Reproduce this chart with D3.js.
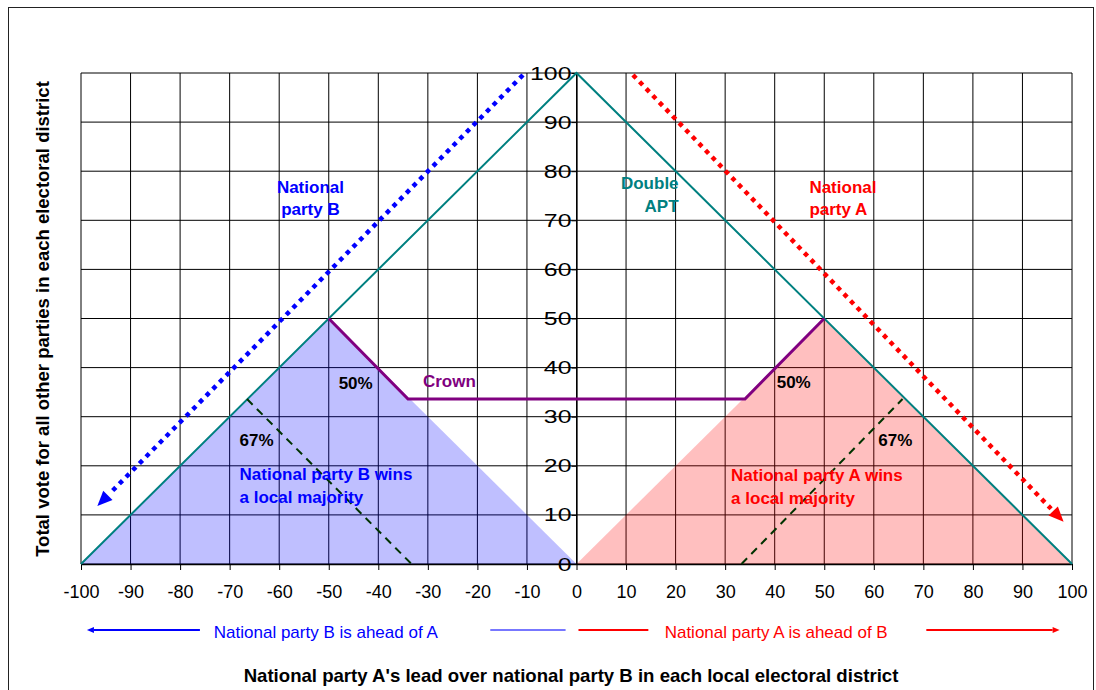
<!DOCTYPE html>
<html><head><meta charset="utf-8">
<script src="https://cdn.jsdelivr.net/npm/d3@7"></script>
<style>
body{margin:0;background:#fff}
svg{display:block}
text{font-family:"Liberation Sans",Arial,Helvetica,sans-serif}
</style>
</head><body>
<svg id="chart" width="1096" height="690"></svg>
<script>
// ---- data ----
const xTickLabels = [-100,-90,-80,-70,-60,-50,-40,-30,-20,-10,0,10,20,30,40,50,60,70,80,90,100];
const yTickLabels = [0,10,20,30,40,50,60,70,80,90,100];
const aptX = [-100, 0, 100];
const aptY = [0, 100, 0];
const crownX = [-50, -34, 34, 50];
const crownY = [50, 33.6, 33.6, 50];
const bWinsX = [-100, -50, 0];
const bWinsY = [0, 50, 0];
const aWinsX = [0, 50, 100];
const aWinsY = [0, 50, 0];
const b67X = [-66.5, -33.3];
const b67Y = [33.6, 0];
const a67X = [33.3, 65.8];
const a67Y = [0, 33.6];
const partyBX = [-10.8, -96.7];
const partyBY = [99.6, 11.8];
const partyAX = [11.4, 98.3];
const partyAY = [99.6, 8.6];
// bottom direction legend (positions along the x scale)
const legendBArrowX = [-98.8, -76.0];
const legendBLineX = [-17.4, -2.2];
const legendALineX = [0.4, 14.5];
const legendAArrowX = [70.6, 97.5];
const legendBTextX = -50.6;
const legendATextX = 40.3;

// ---- setup ----
const svg = d3.select("#chart");
const x = d3.scaleLinear().domain([-100, 100]).range([81, 1072]);
const y = d3.scaleLinear().domain([0, 100]).range([564, 73]);
const zip = (xs, ys) => xs.map((v, i) => [v, ys[i]]);
const line = d3.line().x(d => x(d[0])).y(d => y(d[1]));

// outer border
svg.append("rect").attr("x", 8.5).attr("y", 7.5).attr("width", 1085).attr("height", 720)
  .attr("fill", "none").attr("stroke", "#222").attr("stroke-width", 1);

// grid
const grid = svg.append("g");
grid.selectAll("line.v").data(xTickLabels).join("line")
  .attr("x1", d => x(d)).attr("x2", d => x(d)).attr("y1", y(0)).attr("y2", y(100))
  .attr("stroke", "#000").attr("stroke-width", 1);
grid.selectAll("line.h").data(yTickLabels).join("line")
  .attr("x1", x(-100)).attr("x2", x(100)).attr("y1", d => y(d)).attr("y2", d => y(d))
  .attr("stroke", "#000").attr("stroke-width", 1);

// fills
svg.append("path").attr("d", line(zip(bWinsX, bWinsY)) + "Z").attr("fill", "rgba(0,0,255,0.25)");
svg.append("path").attr("d", line(zip(aWinsX, aWinsY)) + "Z").attr("fill", "rgba(255,0,0,0.25)");

// x axis
const xAxis = d3.axisBottom(x).tickValues(xTickLabels).tickSize(6).tickSizeOuter(0).tickPadding(15)
  .tickFormat(d => d);
const gx = svg.append("g").attr("transform", `translate(0,${y(0)})`).call(xAxis);
gx.select(".domain").attr("stroke", "#000").attr("stroke-width", 1.3);
gx.selectAll(".tick line").attr("stroke", "#000");
gx.selectAll(".tick text").attr("font-size", 18).attr("fill", "#000")
  .attr("font-family", '"Liberation Sans",Arial,sans-serif');

// y axis (at x = 0)
const yAxis = d3.axisLeft(y).tickValues(yTickLabels).tickSize(5).tickSizeOuter(0).tickFormat("");
const gy = svg.append("g").attr("transform", `translate(${x(0)},0)`).call(yAxis);
gy.select(".domain").attr("stroke", "#000").attr("stroke-width", 1.3);
gy.selectAll(".tick line").attr("stroke", "#000");
svg.append("g").selectAll("text").data(yTickLabels).join("text")
  .attr("transform", d => `translate(${x(0) - 5},${y(d) + 6.5}) scale(1.38,1)`)
  .attr("text-anchor", "end").attr("font-size", 18).attr("fill", "#000")
  .text(d => d);

// Double APT line
svg.append("path").attr("d", line(zip(aptX, aptY))).attr("fill", "none")
  .attr("stroke", "#008080").attr("stroke-width", 2);

// 67% dashed lines
[[b67X, b67Y], [a67X, a67Y]].forEach(([xs, ys]) => {
  svg.append("path").attr("d", line(zip(xs, ys))).attr("fill", "none")
    .attr("stroke", "#003300").attr("stroke-width", 2).attr("stroke-dasharray", "8,6");
});

// Crown
svg.append("path").attr("d", line(zip(crownX, crownY))).attr("fill", "none")
  .attr("stroke", "#800080").attr("stroke-width", 3).attr("stroke-linejoin", "miter");

// arrow helper (pixel geometry derived from scaled points)
function arrow(p0, p1, color, opts) {
  const dx = p1[0] - p0[0], dy = p1[1] - p0[1];
  const len = Math.hypot(dx, dy), ux = dx / len, uy = dy / len;
  const hl = opts.headLen, hw = opts.headW;
  const gap = opts.gap || 0;
  const ex = p1[0] - ux * (hl + gap), ey = p1[1] - uy * (hl + gap);
  const l = svg.append("line").attr("x1", p0[0]).attr("y1", p0[1]).attr("x2", ex).attr("y2", ey)
    .attr("stroke", color).attr("stroke-width", opts.width);
  if (opts.dash) l.attr("stroke-dasharray", opts.dash);
  const bx = p1[0] - ux * hl, by = p1[1] - uy * hl;
  const px = -uy, py = ux;
  svg.append("path")
    .attr("d", `M${p1[0]},${p1[1]}L${bx + px * hw / 2},${by + py * hw / 2}L${bx - px * hw / 2},${by - py * hw / 2}Z`)
    .attr("fill", color);
}
arrow([x(partyBX[0]), y(partyBY[0])], [x(partyBX[1]), y(partyBY[1])], "#0000ff",
  {headLen: 15, headW: 13, width: 4.5, dash: "4.5,5", gap: 3});
arrow([x(partyAX[0]), y(partyAY[0])], [x(partyAX[1]), y(partyAY[1])], "#ff0000",
  {headLen: 15, headW: 13, width: 4.5, dash: "4.5,5", gap: 3});

// annotations
function label(lines, px, py, color, anchor, size, weight, lh) {
  const t = svg.append("text").attr("x", px).attr("y", py).attr("fill", color)
    .attr("text-anchor", anchor).attr("font-size", size).attr("font-weight", weight);
  lines.forEach((s, i) => t.append("tspan").attr("x", px).attr("dy", i === 0 ? 0 : lh).text(s));
}
label(["National", "party B"], x(-53.7), y(75.6), "#0000ff", "middle", 17, "bold", 22);
label(["Double", "APT"], x(20.6), y(76.4), "#008080", "end", 17, "bold", 23.5);
label(["National", "party A"], x(47), y(75.6), "#ff0000", "start", 17, "bold", 22.5);
label(["Crown"], x(-31), y(36.1), "#800080", "start", 17, "bold", 0);
label(["50%"], x(-48), y(35.6), "#000", "start", 17, "bold", 0);
label(["50%"], x(40.4), y(35.8), "#000", "start", 17, "bold", 0);
label(["67%"], x(-68), y(24.0), "#000", "start", 17, "bold", 0);
label(["67%"], x(60.9), y(24.0), "#000", "start", 17, "bold", 0);
label(["National party B wins", "a local majority"], x(-68), y(17.1), "#0000ff", "start", 17, "bold", 23);
label(["National party A wins", "a local majority"], x(31.2), y(16.9), "#ff0000", "start", 17, "bold", 23);

// bottom direction legend
const ly = y(0) + 66;
arrow([x(legendBArrowX[1]), ly], [x(legendBArrowX[0]), ly], "#0000ff", {headLen: 7, headW: 6, width: 2});
svg.append("line").attr("x1", x(legendBLineX[0])).attr("x2", x(legendBLineX[1])).attr("y1", ly).attr("y2", ly)
  .attr("stroke", "#7777ff").attr("stroke-width", 2);
svg.append("line").attr("x1", x(legendALineX[0])).attr("x2", x(legendALineX[1])).attr("y1", ly).attr("y2", ly)
  .attr("stroke", "#ff0000").attr("stroke-width", 2);
arrow([x(legendAArrowX[0]), ly], [x(legendAArrowX[1]), ly], "#ff0000", {headLen: 7, headW: 6, width: 2});
svg.append("text").attr("x", x(legendBTextX)).attr("y", ly + 8).attr("text-anchor", "middle")
  .attr("font-size", 17).attr("fill", "#0000ff").text("National party B is ahead of A");
svg.append("text").attr("x", x(legendATextX)).attr("y", ly + 8).attr("text-anchor", "middle")
  .attr("font-size", 17).attr("fill", "#ff0000").text("National party A is ahead of B");

// axis titles
svg.append("text").attr("x", 571).attr("y", 682).attr("text-anchor", "middle")
  .attr("font-size", 18.6).attr("font-weight", "bold").attr("fill", "#000")
  .text("National party A's lead over national party B in each local electoral district");
svg.append("text").attr("transform", "translate(49,319) rotate(-90)").attr("text-anchor", "middle")
  .attr("font-size", 18.5).attr("font-weight", "bold").attr("fill", "#000")
  .text("Total vote for all other parties in each electoral district");
</script>
</body></html>
